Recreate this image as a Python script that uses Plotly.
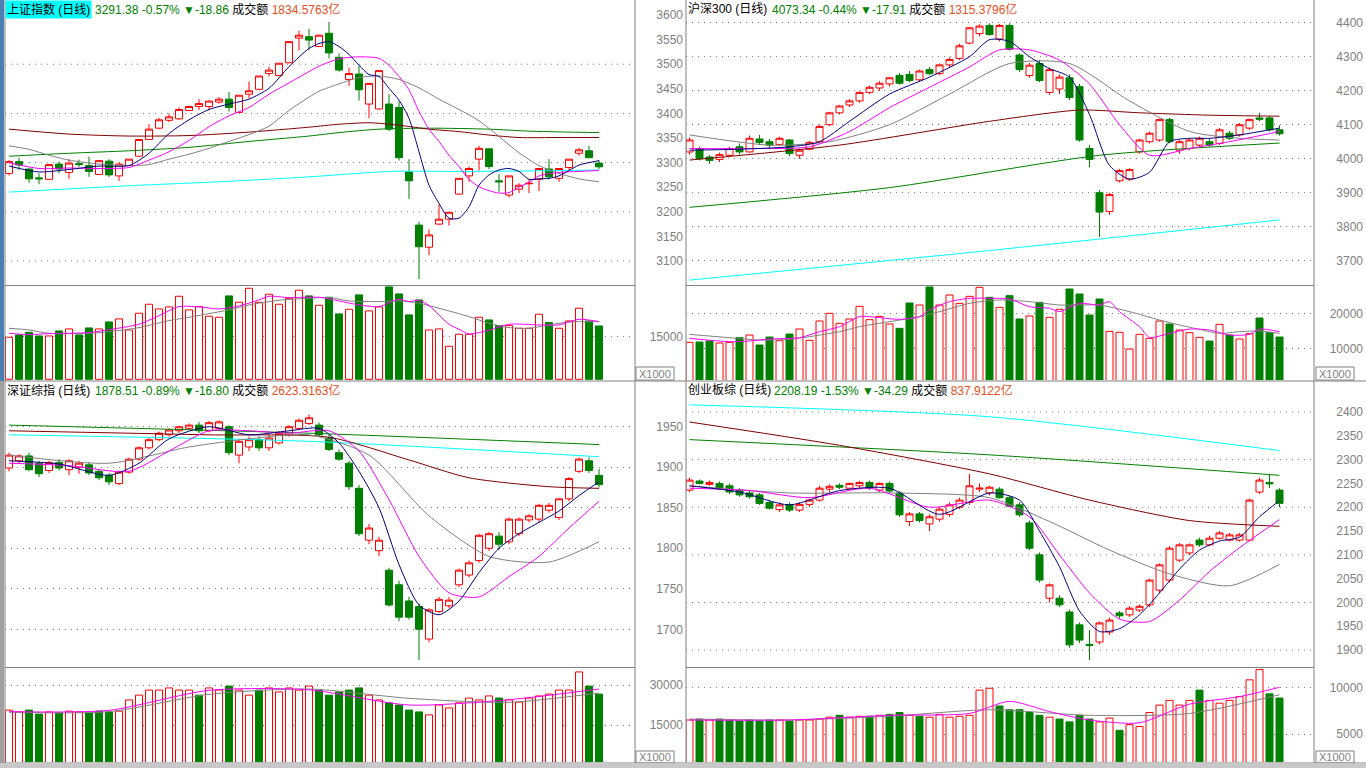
import plotly.graph_objects as go

W, H = 1366, 768
IDX = list(range(60))

# ---------------- 上证指数 ----------------
SH_OPEN = [3278,3302,3287,3269,3266,3297,3280,3298,3294,3276, 3303,3273,3294,3313,3347,3370,3386,3389,3406,3414,
           3414,3423,3429,3402,3439,3449,3481,3477,3503,3553, 3556,3536,3563,3514,3469,3480,3419,3409,3419,3412,
           3281,3173,3128,3175,3185,3236,3273,3307,3328,3263, 3234,3246,3257,3266,3287,3268,3290,3319,3324,3299]
SH_HIGH = [3305,3310,3288,3278,3297,3302,3307,3306,3312,3305, 3307,3300,3307,3348,3378,3391,3400,3412,3416,3429,
           3427,3433,3444,3437,3465,3476,3495,3502,3546,3568, 3572,3560,3586,3522,3493,3497,3462,3488,3439,3425,
           3307,3180,3164,3215,3199,3268,3292,3334,3329,3277, 3273,3258,3266,3289,3307,3289,3307,3330,3334,3305]
SH_LOW = [3274,3285,3259,3256,3265,3278,3267,3291,3271,3275, 3271,3263,3293,3312,3346,3368,3382,3387,3405,3407,
          3406,3420,3404,3401,3431,3448,3475,3476,3502,3528, 3529,3535,3512,3485,3456,3426,3390,3408,3364,3304,
          3226,3063,3112,3174,3172,3235,3261,3284,3287,3241, 3229,3238,3238,3242,3266,3261,3285,3314,3309,3287]
SH_CLOSE = [3302,3295,3267,3267,3296,3287,3299,3296,3282,3304, 3275,3297,3307,3347,3368,3387,3393,3408,3414,3420,
            3425,3429,3412,3437,3446,3476,3488,3502,3546,3559, 3549,3559,3523,3488,3481,3448,3461,3487,3368,3310,
            3263,3129,3153,3185,3199,3268,3288,3329,3292,3261, 3273,3254,3258,3288,3271,3288,3307,3326,3310,3291.38]
SH_VOL = [14790,15610,16550,15260,15260,17020,17730,15610,18080,17730, 20190,21250,17380,23250,26420,24770,25480,29230,24420,25590,
          22190,21840,29350,27120,32050,27120,29940,26420,28530,31350, 29350,26060,28880,23010,24650,29700,24070,25480,32520,30050,
          22660,27940,17380,17730,11620,15850,15850,21840,20900,18900, 18900,17960,17960,22890,19960,17960,20550,25010,20550,18780]
SH_MA5_I = [0,3,6,9,12,14,16,18,20,22,24,26,28,30,31,32,33,34,35,36,37,38,39,40,41,42,43,44,45,46,47,48,49,50,51,52,53,54,55,56,57,58,59]
SH_MA5 = [3293,3281,3286,3293,3294,3319,3359,3387,3408,3419,3429,3451,3495,3532,3542,3546,3536,3520,3498,3479,3475,3451,3427,3390,
          3322,3254,3217,3187,3187,3210,3254,3275,3285,3288,3282,3266,3267,3268,3273,3284,3295,3300,3304]
SH_MA10_I = [0,3,6,9,12,14,16,18,20,22,24,26,28,30,31,33,35,37,38,39,40,41,42,43,44,45,46,47,48,49,50,51,52,53,55,57,59]
SH_MA10 = [3300,3288,3289,3288,3290,3305,3322,3345,3373,3395,3412,3439,3462,3485,3496,3511,3515,3512,3498,3475,3448,3404,3368,
           3343,3315,3292,3266,3251,3243,3238,3239,3250,3260,3273,3280,3282,3284]
SH_MA20_I = [0,2,4,6,9,12,14,16,18,20,22,24,26,28,30,31,33,35,37,39,41,43,45,47,49,51,53,55,57,59]
SH_MA20 = [3334,3327,3315,3305,3297,3294,3296,3307,3317,3329,3343,3357,3374,3406,3433,3445,3460,3473,3476,3469,3452,3429,3408,
           3385,3353,3320,3294,3278,3267,3261]
SH_MA60_I = [0,6,12,18,24,30,33,36,39,42,45,48,51,55,59]
SH_MA60 = [3368,3358,3354,3355,3362,3372,3378,3381,3376,3368,3363,3356,3351,3351,3351]
SH_MA120_I = [0,6,12,18,24,30,33,37,42,48,52,56,59]
SH_MA120 = [3313,3319,3324,3331,3343,3354,3361,3368,3370,3368,3364,3362,3361]
SH_MA250_I = [0,12,21,30,38,45,52,59]
SH_MA250 = [3240,3253,3261,3271,3282,3282,3283,3285]
SH_VMA5_I = [0,2,4,8,10,13,15,17,19,21,23,25,26,28,31,33,35,37,39,40,41,42,43,44,45,46,48,50,53,55,57,59]
SH_VMA5 = [16200,15730,16080,16440,17490,19370,22420,25590,25480,24770,25830,27940,29230,28760,28880,27590,26180,25590,28180,27350,
           27820,25950,22660,19370,17610,15970,17260,19370,19140,19140,21130,20310]
SH_VMA10_I = [0,2,4,8,10,13,16,18,20,22,24,27,30,32,34,37,39,41,43,46,48,50,52,54,56,59]
SH_VMA10 = [17960,17380,16200,16200,16790,18200,20660,21840,23130,24420,26180,27820,28530,28760,27590,27350,27590,26770,25010,22070,
            19720,18200,17960,19140,20190,20310]
SH_PTICKS = [3100,3150,3200,3250,3300,3350,3400,3450,3500,3550,3600]
SH_PGRID = [3100,3200,3300,3400,3500]
SH_VTICKS = [15000]

# ---------------- 沪深300 ----------------
HS_OPEN = [4020,4030,4005,3998,4010,4035,4020,4058,4050,4042, 4055,4010,4028,4050,4100,4135,4158,4170,4195,4208,
           4220,4245,4248,4232,4262,4250,4276,4295,4340,4368, 4392,4352,4392,4305,4245,4280,4195,4205,4238,4212,
           4030,3900,3845,3935,3940,4020,4050,4055,4115,4025, 4030,4040,4050,4045,4075,4070,4090,4120,4120,4085]
HS_HIGH = [4062,4036,4010,4018,4035,4045,4068,4070,4058,4065, 4058,4030,4052,4100,4138,4158,4175,4198,4215,4228,
           4240,4252,4258,4262,4270,4280,4298,4338,4388,4395, 4398,4396,4398,4310,4282,4290,4268,4248,4248,4220,
           4040,3908,3900,3970,3972,4058,4080,4118,4120,4055, 4060,4065,4058,4090,4082,4105,4118,4135,4125,4098]
HS_LOW = [4012,3995,3985,3990,4005,4012,4018,4040,4032,4038, 4008,4000,4025,4048,4096,4130,4152,4165,4190,4200,
          4212,4218,4225,4228,4245,4246,4270,4290,4336,4360, 4362,4345,4318,4255,4238,4225,4188,4190,4172,4050,
          3975,3770,3835,3930,3935,4015,4045,4050,4045,4015, 4025,4035,4035,4040,4055,4065,4085,4110,4080,4068]
HS_CLOSE = [4055,4000,3995,4012,4030,4020,4060,4048,4040,4060, 4015,4025,4048,4095,4135,4155,4170,4195,4210,4222,
            4238,4222,4230,4258,4250,4276,4292,4332,4385,4390, 4365,4392,4322,4262,4275,4230,4262,4240,4180,4055,
            3998,3843,3895,3965,3968,4055,4075,4115,4050,4050, 4055,4060,4040,4085,4060,4100,4115,4116,4085,4073.34]
HS_VOL = [11734,11830,12122,11539,11734,13094,13872,10956,13289,12220, 14164,15622,12317,17954,20190,17274,18538,22231,18343,19315,
          17080,15816,23203,22620,27869,22620,25536,23106,25147,27772, 24856,21940,25342,18538,19413,23398,19024,21356,27286,25828,
          19704,24370,14941,14650,9790,14066,12900,17954,17080,15330, 14552,13192,12122,16982,13872,12706,14261,18830,14552,13289]
HS_MA5_I = [0,5,10,13,16,20,24,28,30,32,34,36,38,40,42,44,46,48,50,52,55,59]
HS_MA5 = [4025,4028,4035,4050,4110,4190,4240,4300,4350,4345,4300,4265,4240,4130,3980,3940,3960,4050,4060,4060,4070,4090]
HS_MA10_I = [0,6,12,16,20,24,28,31,34,37,40,43,46,50,54,59]
HS_MA10 = [4030,4030,4035,4080,4150,4210,4270,4320,4320,4290,4220,4100,4010,4030,4050,4080]
HS_MA20_I = [0,8,14,20,26,32,38,44,50,55,59]
HS_MA20 = [4070,4040,4050,4100,4190,4280,4280,4170,4080,4060,4055]
HS_MA60_I = [0,15,30,39,45,52,59]
HS_MA60 = [3996,4040,4110,4143,4135,4128,4125]
HS_MA120_I = [0,20,41,59]
HS_MA120 = [3857,3915,4010,4046]
HS_MA250_I = [0,30,59]
HS_MA250 = [3643,3730,3820]
HS_VMA5_I = [0,4,6,8,11,13,15,17,19,21,23,24,26,28,30,32,34,36,37,39,41,42,43,45,46,48,50,52,54,56,57,59]
HS_VMA5 = [12900,11930,12120,12700,13090,14840,16300,19220,18930,18440,19220,21160,23590,24570,24570,24370,22130,21650,20680,23110,
           22620,23590,20680,16300,13190,14360,15620,15330,13870,14070,15620,14840]
HS_VMA10_I = [0,4,7,10,12,15,17,20,23,25,28,31,34,37,39,41,44,47,49,51,53,55,57,59]
HS_VMA10 = [14070,13090,12410,12610,13390,14840,16300,17760,19220,20680,23110,24080,23590,22620,22620,22620,20680,18250,16790,15520,
            14360,14840,15040,14360]
HS_PTICKS = [3700,3800,3900,4000,4100,4200,4300,4400]
HS_VTICKS = [10000,20000]

# ---------------- 深证综指 ----------------
SZ_OPEN = [1899,1908,1914,1905,1896,1906,1897,1900,1903,1895, 1890,1880,1894,1910,1924,1934,1940,1945,1948,1952,
           1945,1948,1950,1915,1925,1934,1924,1930,1940,1948, 1954,1952,1936,1918,1905,1874,1810,1797,1773,1755,
           1735,1728,1688,1722,1729,1755,1767,1785,1800,1815, 1808,1818,1835,1836,1847,1838,1861,1895,1908,1890]
SZ_HIGH = [1918,1916,1918,1908,1908,1910,1910,1908,1906,1898, 1893,1896,1912,1926,1936,1944,1948,1951,1954,1956,
           1957,1958,1952,1935,1938,1938,1940,1944,1952,1960, 1965,1955,1940,1922,1908,1878,1830,1814,1776,1760,
           1740,1732,1726,1740,1740,1775,1785,1818,1820,1820, 1838,1838,1842,1855,1856,1862,1888,1912,1912,1898]
SZ_LOW = [1895,1905,1895,1888,1893,1896,1890,1892,1890,1884, 1878,1878,1892,1908,1922,1932,1938,1942,1946,1942,
          1943,1945,1915,1905,1920,1920,1920,1928,1938,1946, 1952,1938,1920,1908,1872,1815,1805,1790,1728,1710,
          1712,1662,1684,1720,1726,1752,1764,1782,1797,1798, 1805,1815,1832,1832,1844,1835,1858,1893,1893,1875]
SZ_CLOSE = [1915,1914,1897,1892,1906,1899,1908,1905,1893,1887, 1882,1894,1910,1924,1934,1942,1946,1950,1952,1945,
            1955,1956,1918,1932,1934,1924,1936,1942,1950,1958, 1961,1940,1922,1910,1876,1818,1825,1810,1730,1715,
            1715,1700,1724,1737,1736,1773,1782,1816,1818,1805, 1836,1836,1840,1853,1853,1861,1886,1910,1896,1878.51]
SZ_VOL = [20600,19900,20600,19100,19900,19500,20200,19900,19500,20200, 19900,20200,24400,26200,28100,28100,28900,28100,28100,26200,
          28900,28100,29600,28100,26200,28100,28900,27400,28900,28100, 29600,28100,26200,27400,28100,28900,26200,24400,23300,22500,
          20600,19900,18800,22500,21400,23300,25100,24400,25900,25100, 24400,23600,25100,25900,26600,28100,28100,34900,29600,26600]
SZ_MA5_I = [0,5,10,13,16,20,24,28,31,33,35,37,39,41,43,45,47,49,51,53,55,57,59]
SZ_MA5 = [1908,1904,1890,1905,1935,1950,1940,1945,1948,1930,1895,1850,1780,1730,1718,1735,1770,1800,1818,1832,1846,1865,1882]
SZ_MA10_I = [0,6,12,16,20,24,28,32,35,38,41,44,47,50,53,56,59]
SZ_MA10 = [1905,1902,1895,1920,1945,1945,1942,1945,1920,1860,1790,1745,1740,1765,1790,1825,1858]
SZ_MA20_I = [0,10,18,24,30,36,42,48,54,59]
SZ_MA20 = [1915,1905,1925,1935,1940,1915,1840,1790,1783,1808]
SZ_MA60_I = [0,20,32,40,46,54,59]
SZ_MA60 = [1945,1940,1937,1909,1887,1876,1874]
SZ_MA120_I = [0,30,59]
SZ_MA120 = [1952,1942,1928]
SZ_MA250_I = [0,30,59]
SZ_MA250 = [1940,1932,1913]
SZ_VMA5_I = [0,10,20,30,40,50,59]
SZ_VMA5 = [20000,20500,28000,28200,22500,24500,28500]
SZ_VMA10_I = [0,10,20,30,40,50,59]
SZ_VMA10 = [19800,20000,26500,28500,25000,23500,27000]
SZ_PTICKS = [1700,1750,1800,1850,1900,1950]
SZ_VTICKS = [15000,30000]

# ---------------- 创业板综 ----------------
CY_OPEN = [2236,2255,2248,2250,2245,2236,2230,2226,2210,2195, 2205,2194,2206,2215,2238,2246,2240,2245,2252,2236,
           2250,2230,2170,2186,2165,2175,2185,2200,2210,2238, 2230,2238,2220,2205,2167,2100,2009,2009,1980,1953,
           1912,1917,1938,1978,1974,1984,1995,2026,2047,2089, 2104,2131,2121,2135,2131,2131,2131,2232,2252,2236]
CY_HIGH = [2262,2258,2256,2254,2250,2240,2234,2230,2214,2210, 2210,2210,2218,2245,2248,2250,2252,2255,2256,2252,
           2254,2234,2190,2190,2185,2200,2210,2220,2270,2250, 2245,2242,2224,2210,2172,2105,2040,2015,1985,1958,
           1942,1960,1968,1982,1992,1996,2050,2082,2118,2125, 2124,2136,2140,2150,2146,2146,2218,2262,2270,2240]
CY_LOW = [2232,2248,2245,2236,2228,2222,2218,2205,2195,2190, 2190,2190,2200,2212,2232,2238,2238,2240,2236,2232,
          2230,2180,2160,2168,2150,2170,2180,2196,2205,2232, 2225,2218,2200,2180,2110,2042,2000,1990,1905,1915,
          1879,1912,1932,1966,1970,1980,1990,2020,2042,2085, 2100,2117,2118,2132,2128,2128,2128,2228,2240,2200]
CY_CLOSE = [2257,2250,2252,2240,2232,2226,2222,2208,2198,2205, 2194,2206,2215,2240,2244,2242,2250,2252,2240,2250,
            2234,2184,2186,2172,2180,2196,2205,2215,2245,2240, 2242,2220,2202,2184,2114,2047,2037,1995,1911,1921,
            1910,1957,1963,1972,1988,1992,2047,2079,2114,2121, 2121,2121,2135,2146,2142,2142,2215,2257,2249,2208.19]
CY_VOL = [6500,6600,6500,6600,6500,6400,6500,6400,6500,6500, 6400,6500,6500,6600,6800,7000,6800,6900,6900,7000,
          7100,7300,7000,6900,6800,7100,6800,6900,7000,9700, 9900,8000,7600,7600,7300,7000,6800,6600,6300,7000,
          6600,6300,6700,5400,6000,5800,7300,8100,8600,8100, 8600,9700,8600,8300,8600,9000,10800,11900,9300,8850]
CY_MA5_I = [0,5,10,15,20,25,30,33,35,37,39,41,43,45,47,49,51,53,55,57,59]
CY_MA5 = [2245,2232,2205,2235,2240,2185,2230,2215,2150,2075,1982,1939,1945,1974,2020,2070,2110,2129,2137,2180,2214]
CY_MA10_I = [0,6,12,18,24,30,34,37,40,43,46,49,52,55,59]
CY_MA10 = [2240,2235,2220,2240,2200,2215,2180,2100,2020,1965,1960,2005,2065,2115,2174]
CY_MA20_I = [0,10,20,30,36,42,48,54,59]
CY_MA20 = [2245,2230,2230,2220,2170,2110,2060,2035,2080]
CY_MA60_I = [0,15,30,40,50,59]
CY_MA60 = [2379,2330,2270,2215,2172,2160]
CY_MA120_I = [0,30,59]
CY_MA120 = [2342,2310,2267]
CY_MA250_I = [0,30,59]
CY_MA250 = [2415,2390,2319]
CY_VMA5_I = [0,10,20,28,32,36,40,45,50,55,59]
CY_VMA5 = [6500,6500,7000,7200,8500,7400,6500,6200,8200,9000,10000]
CY_VMA10_I = [0,10,20,30,40,50,59]
CY_VMA10 = [6600,6500,6900,7600,7000,7200,9200]
CY_PTICKS = [1900,1950,2000,2050,2100,2150,2200,2250,2300,2350,2400]
CY_PGRID = [1900,2000,2100,2200,2300,2400]
CY_VTICKS = [5000,10000]

# ---------------- header texts ----------------
NAMES = ["上证指数 (日线)", "沪深300 (日线)", "深证综指 (日线)", "创业板综 (日线)"]
LAST = ["3291.38", "4073.34", "1878.51", "2208.19"]
PCT = ["-0.57%", "-0.44%", "-0.89%", "-1.53%"]
CHG = ["▼-18.86", "▼-17.91", "▼-16.80", "▼-34.29"]
AMT = ["1834.5763亿", "1315.3796亿", "2623.3163亿", "837.9122亿"]

# ---------------- style ----------------
RED = "#ff0000"; GREEN = "#008000"; NAVY = "#000080"; MAGENTA = "#ff00ff"
GRAYL = "#808080"; MAROON = "#800000"; CYAN = "#00ffff"; ORANGE = "#e8501e"
BORDER = "#808080"
DOT = "1px,5px"
LABEL_FONT = dict(family="Liberation Sans, Arial, sans-serif", size=12, color="#808080")
HEAD_FONT = dict(family="Liberation Sans, Noto Sans CJK SC, sans-serif", size=12, color="#000000")


def fx(p):
    return p / W


def fy(p):
    return 1 - p / H


panels = [
    dict(o=SH_OPEN, h=SH_HIGH, l=SH_LOW, c=SH_CLOSE, v=SH_VOL,
         ma=[(SH_MA250_I, SH_MA250, CYAN), (SH_MA120_I, SH_MA120, GREEN), (SH_MA60_I, SH_MA60, MAROON),
             (SH_MA20_I, SH_MA20, GRAYL), (SH_MA10_I, SH_MA10, MAGENTA), (SH_MA5_I, SH_MA5, NAVY)],
         vma=[(SH_VMA10_I, SH_VMA10, GRAYL), (SH_VMA5_I, SH_VMA5, MAGENTA)],
         xpx=(5, 635), ypx=(1, 285), vpx=(286, 380), lab=686, xr=(-0.4, 62.6),
         pr=(3051.2, 3628.5), vr=(-246, 32842), pt=SH_PTICKS, pg=SH_PGRID, vt=SH_VTICKS,
         hx=93, sel=True, xk=(636, 674, 367, 380)),
    dict(o=HS_OPEN, h=HS_HIGH, l=HS_LOW, c=HS_CLOSE, v=HS_VOL,
         ma=[(HS_MA250_I, HS_MA250, CYAN), (HS_MA120_I, HS_MA120, GREEN), (HS_MA60_I, HS_MA60, MAROON),
             (HS_MA20_I, HS_MA20, GRAYL), (HS_MA10_I, HS_MA10, MAGENTA), (HS_MA5_I, HS_MA5, NAVY)],
         vma=[(HS_VMA10_I, HS_VMA10, GRAYL), (HS_VMA5_I, HS_VMA5, MAGENTA)],
         xpx=(686, 1314), ypx=(1, 285), vpx=(286, 380), lab=1366, xr=(-0.35, 62.45),
         pr=(3628.6, 4463.8), vr=(760, 28160), pt=HS_PTICKS, pg=None, vt=HS_VTICKS,
         hx=770, sel=False, xk=(1316, 1354, 367, 380)),
    dict(o=SZ_OPEN, h=SZ_HIGH, l=SZ_LOW, c=SZ_CLOSE, v=SZ_VOL,
         ma=[(SZ_MA250_I, SZ_MA250, CYAN), (SZ_MA120_I, SZ_MA120, GREEN), (SZ_MA60_I, SZ_MA60, MAROON),
             (SZ_MA20_I, SZ_MA20, GRAYL), (SZ_MA10_I, SZ_MA10, MAGENTA), (SZ_MA5_I, SZ_MA5, NAVY)],
         vma=[(SZ_VMA10_I, SZ_VMA10, GRAYL), (SZ_VMA5_I, SZ_VMA5, MAGENTA)],
         xpx=(5, 635), ypx=(382, 667), vpx=(668, 762), lab=686, xr=(-0.4, 62.6),
         pr=(1653.5, 2005.2), vr=(1125, 36375), pt=SZ_PTICKS, pg=None, vt=SZ_VTICKS,
         hx=93, sel=False, xk=(636, 674, 751, 763)),
    dict(o=CY_OPEN, h=CY_HIGH, l=CY_LOW, c=CY_CLOSE, v=CY_VOL,
         ma=[(CY_MA250_I, CY_MA250, CYAN), (CY_MA120_I, CY_MA120, GREEN), (CY_MA60_I, CY_MA60, MAROON),
             (CY_MA20_I, CY_MA20, GRAYL), (CY_MA10_I, CY_MA10, MAGENTA), (CY_MA5_I, CY_MA5, NAVY)],
         vma=[(CY_VMA10_I, CY_VMA10, GRAYL), (CY_VMA5_I, CY_VMA5, MAGENTA)],
         xpx=(686, 1314), ypx=(382, 667), vpx=(668, 762), lab=1366, xr=(-0.35, 62.45),
         pr=(1864.5, 2463), vr=(2002, 12067), pt=CY_PTICKS, pg=CY_PGRID, vt=CY_VTICKS,
         hx=772, sel=False, xk=(1316, 1354, 751, 763)),
]

fig = go.Figure()
layout = {}
shapes = []
annotations = []

for k, P in enumerate(panels):
    xname = "x" if k == 0 else f"x{k + 1}"
    xkey = "xaxis" if k == 0 else f"xaxis{k + 1}"
    pn = 2 * k + 1
    vn = 2 * k + 2
    yp = "y" if pn == 1 else f"y{pn}"
    ypkey = "yaxis" if pn == 1 else f"yaxis{pn}"
    yv = f"y{vn}"
    yvkey = f"yaxis{vn}"

    fig.add_trace(go.Candlestick(
        x=IDX, open=P["o"], high=P["h"], low=P["l"], close=P["c"],
        increasing=dict(line=dict(color=RED, width=1), fillcolor="#ffffff"),
        decreasing=dict(line=dict(color=GREEN, width=1), fillcolor=GREEN),
        whiskerwidth=0, xaxis=xname, yaxis=yp, showlegend=False, hoverinfo="skip"))
    for ii, vv, col in P["ma"]:
        fig.add_trace(go.Scatter(x=ii, y=vv, mode="lines", xaxis=xname, yaxis=yp,
                                 line=dict(color=col, width=1, shape="spline", smoothing=0.7),
                                 showlegend=False, hoverinfo="skip"))

    up = [c >= o for o, c in zip(P["o"], P["c"])]
    fig.add_trace(go.Bar(
        x=IDX, y=P["v"], width=0.7, xaxis=xname, yaxis=yv,
        marker=dict(color=["#ffffff" if u else GREEN for u in up],
                    line=dict(color=[RED if u else GREEN for u in up], width=1)),
        showlegend=False, hoverinfo="skip"))
    for ii, vv, col in P["vma"]:
        fig.add_trace(go.Scatter(x=ii, y=vv, mode="lines", xaxis=xname, yaxis=yv,
                                 line=dict(color=col, width=1, shape="spline", smoothing=0.7),
                                 showlegend=False, hoverinfo="skip"))

    x0, x1 = P["xpx"]
    layout[xkey] = dict(domain=[fx(x0), fx(x1)], range=list(P["xr"]), anchor=yv,
                        showticklabels=False, showgrid=False, zeroline=False, showline=False,
                        ticks="", rangeslider=dict(visible=False), fixedrange=True)
    common = dict(side="left", anchor="free", position=fx(P["lab"]), ticks="", showline=False,
                  zeroline=False, tickfont=LABEL_FONT, gridcolor=BORDER, griddash=DOT,
                  gridwidth=1, fixedrange=True, ticklabelstandoff=3)
    layout[ypkey] = dict(domain=[fy(P["ypx"][1]), fy(P["ypx"][0])], range=list(P["pr"]),
                         tickvals=P["pt"], ticktext=[str(t) for t in P["pt"]],
                         showgrid=P["pg"] is None, **common)
    layout[yvkey] = dict(domain=[fy(P["vpx"][1]), fy(P["vpx"][0])], range=list(P["vr"]),
                         tickvals=P["vt"], ticktext=[str(t) for t in P["vt"]],
                         showgrid=True, **common)
    if P["pg"] is not None:
        for g in P["pg"]:
            shapes.append(dict(type="line", xref=f"{xname} domain", x0=0, x1=1, yref=yp, y0=g, y1=g,
                               line=dict(color=BORDER, width=1, dash=DOT), layer="below"))

    # header
    ty = P["ypx"][0] + 8
    annotations.append(dict(text=NAMES[k], x=fx(x0), y=fy(ty), xref="paper", yref="paper",
                            xanchor="left", yanchor="middle", showarrow=False, font=HEAD_FONT,
                            bgcolor=CYAN if P["sel"] else "rgba(0,0,0,0)", borderpad=1))
    rest = (f"<span style='color:{GREEN}'>{LAST[k]} {PCT[k]} {CHG[k]}</span> 成交额 "
            f"<span style='color:{ORANGE}'>{AMT[k]}</span>")
    annotations.append(dict(text=rest, x=fx(P["hx"]), y=fy(ty), xref="paper", yref="paper",
                            xanchor="left", yanchor="middle", showarrow=False, font=HEAD_FONT, borderpad=1))
    bx0, bx1, by0, by1 = P["xk"]
    shapes.append(dict(type="rect", xref="paper", yref="paper", x0=fx(bx0), x1=fx(bx1), y0=fy(by1), y1=fy(by0),
                       line=dict(color=BORDER, width=1), fillcolor="rgba(0,0,0,0)"))
    annotations.append(dict(text="X1000", x=fx((bx0 + bx1) / 2), y=fy((by0 + by1) / 2), xref="paper", yref="paper",
                            xanchor="center", yanchor="middle", showarrow=False,
                            font=dict(family="Liberation Sans, Arial, sans-serif", size=11, color="#808080")))

# panel frame lines (pixel positions)
FRAME = [(635, 0, 635, 763), (686, 0, 686, 763), (1314, 0, 1314, 763), (5, 0, 5, 763),
         (5, 285.5, 635, 285.5), (686, 285.5, 1314, 285.5), (0, 381, 1366, 381),
         (5, 667.5, 635, 667.5), (686, 667.5, 1314, 667.5), (0, 763, 1366, 763)]
for a, b, c, d in FRAME:
    shapes.append(dict(type="line", xref="paper", yref="paper", x0=fx(a), y0=fy(b), x1=fx(c), y1=fy(d),
                       line=dict(color=BORDER, width=1)))
shapes.append(dict(type="rect", xref="paper", yref="paper", x0=0, x1=fx(4), y0=fy(381), y1=1,
                   line=dict(width=0), fillcolor="#4a7fb5"))
shapes.append(dict(type="rect", xref="paper", yref="paper", x0=0, x1=fx(4), y0=fy(763), y1=fy(381),
                   line=dict(width=0), fillcolor="#a0a0a0"))
shapes.append(dict(type="rect", xref="paper", yref="paper", x0=0, x1=1, y0=0, y1=fy(763),
                   line=dict(width=0), fillcolor="#c8c8c8"))

fig.update_layout(
    width=W, height=H, margin=dict(l=0, r=0, t=0, b=0),
    paper_bgcolor="#ffffff", plot_bgcolor="#ffffff",
    showlegend=False, hovermode=False, dragmode=False,
    boxgap=0.3, boxgroupgap=0, bargap=0.3,
    shapes=shapes, annotations=annotations, **layout)

fig.write_html("out.html", config={"displayModeBar": False})
